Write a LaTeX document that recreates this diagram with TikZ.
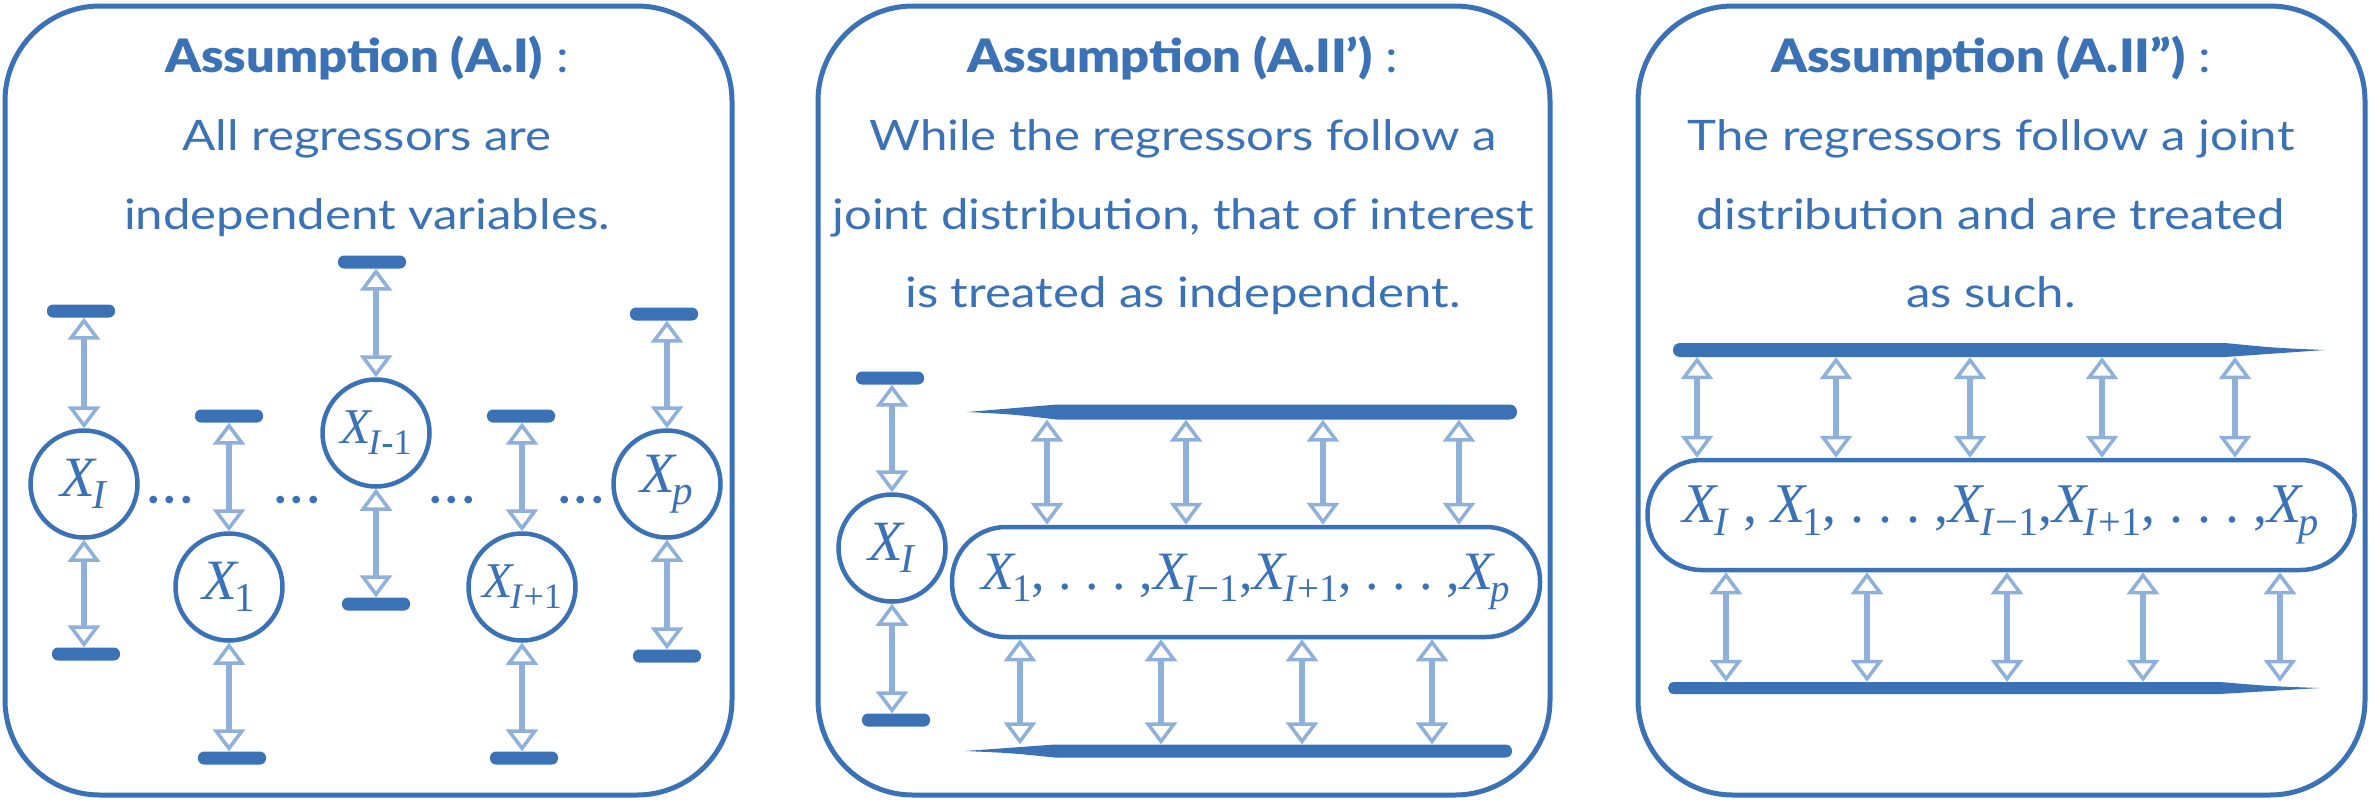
\documentclass[tikz,border=0pt]{standalone}
\usepackage{graphicx}
\usepackage{fontspec}
\setmainfont{Lato}[BoldFont={Lato Black}]
\newfontfamily\mfont{Liberation Serif}
\usetikzlibrary{arrows.meta,calc}
\definecolor{dk}{HTML}{3A72B5}
\definecolor{lt}{HTML}{8FB0D9}
% variable X with subscript (serif italic)
\newcommand\V[1]{{\mfont\itshape X}\kern-0.05em\raisebox{-0.22em}{\scalebox{0.72}{\mfont #1}}}
\newcommand\I{\textit{I}}
\newcommand\dd{.\ .\ .}
\newcommand\W[1]{\scalebox{1.17}[1]{#1}}
\newcommand\Wt[1]{\scalebox{1.1}[1]{#1}}
% tapered brush bars: #1 x-left #2 x-right #3 y #4 half thickness #5 taper length
\newcommand\taperLeft[5]{\fill[dk] (#1,#3) .. controls ({#1+0.5*#5},{#3-0.5*#4}) .. ({#1+#5},{#3-#4}) -- ({#2-#4},{#3-#4}) .. controls ({#2+#4/3},{#3-#4}) and ({#2+#4/3},{#3+#4}) .. ({#2-#4},{#3+#4}) -- ({#1+#5},{#3+#4}) .. controls ({#1+0.5*#5},{#3+0.3*#4}) .. (#1,#3) -- cycle;}
\newcommand\taperRight[5]{\fill[dk] (#2,#3) .. controls ({#2-0.5*#5},{#3-0.3*#4}) .. ({#2-#5},{#3-#4}) -- ({#1+#4},{#3-#4}) .. controls ({#1-#4/3},{#3-#4}) and ({#1-#4/3},{#3+#4}) .. ({#1+#4},{#3+#4}) -- ({#2-#5},{#3+#4}) .. controls ({#2-0.5*#5},{#3+0.5*#4}) .. (#2,#3) -- cycle;}
\begin{document}
\begin{tikzpicture}[x=1pt,y=-1pt,
 panel/.style={draw=dk, line width=5pt, rounded corners=95pt},
 title/.style={anchor=base, inner sep=0, text=dk, font=\fontsize{46}{52}\selectfont},
 txt/.style={anchor=base, inner sep=0, text=dk, font=\fontsize{42}{50}\selectfont},
 circ/.style={circle, draw=dk, line width=4.5pt, minimum size=107pt, inner sep=0, text=dk, font=\fontsize{57}{62}\selectfont},
 circs/.style={circ, font=\fontsize{50}{56}\selectfont},
 sbar/.style={rectangle, fill=dk, rounded corners=6pt, minimum width=68pt, minimum height=13pt, inner sep=0},
 lbar/.style={rectangle, inner sep=0},
 pill/.style={rectangle, draw=dk, line width=4.5pt, rounded corners=54pt, minimum height=110pt, inner sep=0, text=dk, font=\fontsize{56}{62}\selectfont\mfont},
 arr/.style={draw=lt, line width=6pt, {Triangle[open, width=32pt, length=22pt, line width'=3.5pt]}-{Triangle[open, width=32pt, length=22pt, line width'=3.5pt]}},
 dots/.style={anchor=base, inner sep=0, text=dk, font=\fontsize{44}{50}\selectfont\bfseries}
]
\useasboundingbox (0,0) rectangle (2374,804);
% panels
\draw[panel] (5,6) rectangle (732,795);
\draw[panel] (818,6) rectangle (1550,795);
\draw[panel] (1638,6) rectangle (2365,795);

% ---------- panel 1 ----------
\node[title] (t1) at (367,72) {\Wt{\textbf{Assumption (A.I)} :}};
\node[txt] (t1a) at (367,150) {\W{All regressors are}};
\node[txt] (t1b) at (367,229) {\W{independent variables.}};

\node[sbar] (b1t) at (81,311) {};
\node[circ] (c1) at (84,484) {\V{\I}};
\node[sbar] (b1b) at (86,654) {};
\draw[arr] (b1t.south -| c1.north) -- (c1.north);
\draw[arr] (c1.south) -- (b1b.north -| c1.south);

\node[sbar] (b2t) at (229,416) {};
\node[circ] (c2) at (229,587) {\V{1}};
\node[sbar] (b2b) at (232,758) {};
\draw[arr] (b2t.south -| c2.north) -- (c2.north);
\draw[arr] (c2.south) -- (b2b.north -| c2.south);

\node[sbar] (b3t) at (372,262) {};
\node[circs] (c3) at (376,433) {\V{\I\textbf{-}1}};
\node[sbar] (b3b) at (376,604) {};
\draw[arr] (b3t.south -| c3.north) -- (c3.north);
\draw[arr] (c3.south) -- (b3b.north -| c3.south);

\node[sbar] (b4t) at (521,416) {};
\node[circs] (c4) at (522,587) {\V{\I+1}};
\node[sbar] (b4b) at (524,758) {};
\draw[arr] (b4t.south -| c4.north) -- (c4.north);
\draw[arr] (c4.south) -- (b4b.north -| c4.south);

\node[sbar] (b5t) at (664,314) {};
\node[circ] (c5) at (667,484) {\V{\textit{p}}};
\node[sbar] (b5b) at (667,656) {};
\draw[arr] (b5t.south -| c5.north) -- (c5.north);
\draw[arr] (c5.south) -- (b5b.north -| c5.south);

\node[dots] (d1) at (170,503) {.\hspace{6pt}.\hspace{6pt}.};
\node[dots] (d2) at (297,503) {.\hspace{6pt}.\hspace{6pt}.};
\node[dots] (d3) at (452,503) {.\hspace{6pt}.\hspace{6pt}.};
\node[dots] (d4) at (581,503) {.\hspace{6pt}.\hspace{6pt}.};

% ---------- panel 2 ----------
\node[title] (t2) at (1183,72) {\Wt{\textbf{Assumption (A.II’)} :}};
\node[txt] (t2a) at (1183,150) {\W{While the regressors follow a}};
\node[txt] (t2b) at (1183,229) {\W{joint distribution, that of interest}};
\node[txt] (t2c) at (1183,307) {\W{is treated as independent.}};

\node[sbar] (b6t) at (890,378) {};
\node[circ] (c6) at (892,548) {\V{\I}};
\node[sbar] (b6b) at (896,720) {};
\draw[arr] (b6t.south -| c6.north) -- (c6.north);
\draw[arr] (c6.south) -- (b6b.north -| c6.south);

\taperLeft{967}{1517}{412}{7.5}{90}
\node[lbar, minimum width=550pt, minimum height=15pt] (tb2) at (1242,412) {};
\node[pill, minimum width=588pt, font=\fontsize{54}{60}\selectfont\mfont] (p2) at (1246,582) {\V{1},\ \dd\ ,\V{\I−1},\V{\I+1},\ \dd\ ,\V{\textit{p}}};
\taperLeft{965}{1512}{751}{6.5}{90}
\node[lbar, minimum width=547pt, minimum height=13pt] (bb2) at (1238,751) {};
\foreach \x in {1047,1186,1323,1459}
  \draw[arr] (tb2.south -| \x,0) -- (p2.north -| \x,0);
\foreach \x in {1020,1161,1302,1432}
  \draw[arr] (p2.south -| \x,0) -- (bb2.north -| \x,0);

% ---------- panel 3 ----------
\node[title] (t3) at (1991,72) {\Wt{\textbf{Assumption (A.II”)} :}};
\node[txt] (t3a) at (1991,150) {\W{The regressors follow a joint}};
\node[txt] (t3b) at (1991,229) {\W{distribution and are treated}};
\node[txt] (t3c) at (1991,307) {\W{as such.}};

\taperRight{1673}{2325}{350}{7}{100}
\node[lbar, minimum width=652pt, minimum height=14pt] (tb3) at (1999,350) {};
\node[pill, minimum width=707pt] (p3) at (2001,515) {\V{\I}\ ,\ \V{1},\ \dd\ ,\V{\I−1},\V{\I+1},\ \dd\ ,\V{\textit{p}}};
\taperRight{1668}{2320}{688}{6}{100}
\node[lbar, minimum width=652pt, minimum height=12pt] (bb3) at (1994,688) {};
\foreach \x in {1697,1836,1970,2102,2235}
  \draw[arr] (tb3.south -| \x,0) -- (p3.north -| \x,0);
\foreach \x in {1726,1867,2007,2143,2280}
  \draw[arr] (p3.south -| \x,0) -- (bb3.north -| \x,0);
\end{tikzpicture}
\end{document}
